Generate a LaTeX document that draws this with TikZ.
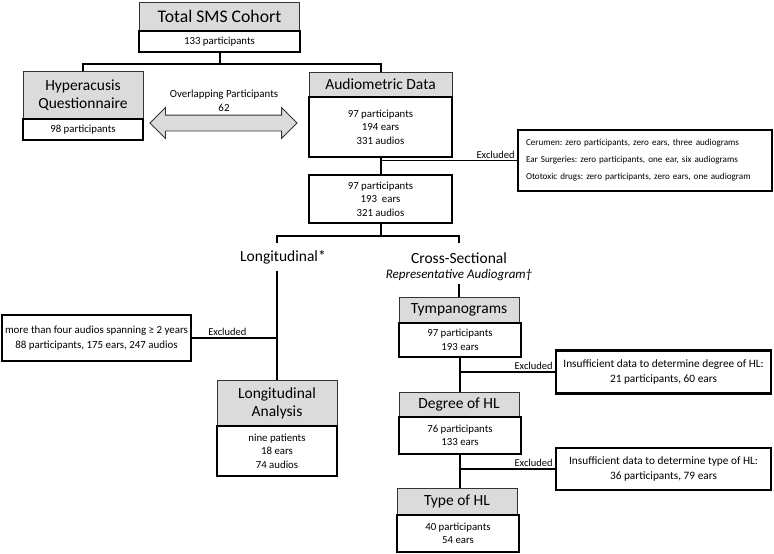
\documentclass[tikz,border=0pt]{standalone}
\usepackage{fontspec}
\setmainfont{Carlito}
\usetikzlibrary{shapes.arrows,calc}
\frenchspacing
\begin{document}
\begin{tikzpicture}[x=1pt,y=-1pt,
 hbox/.style={draw=black!80, line width=0.8pt, fill=black!14, inner sep=0pt, align=center, font=\fontsize{15.5}{18}\selectfont},
 wbox/.style={draw=black, line width=2.2pt, fill=white, inner sep=0pt, align=center, font=\fontsize{10.8}{13.5}\selectfont},
 conn/.style={line width=2pt},
 thinconn/.style={line width=1.5pt},
 exlab/.style={font=\fontsize{10.5}{12}\selectfont, inner sep=1.5pt},
 biglab/.style={font=\fontsize{15.5}{18}\selectfont, inner sep=0pt},
]
\useasboundingbox (0,0) rectangle (774,554);

% top
\node[hbox, minimum width=160pt, minimum height=29pt, font=\fontsize{17.7}{20}\selectfont] (tot_h) at (219.5,16.5) {Total SMS Cohort};
\node[wbox, minimum width=161pt, minimum height=21pt] (tot_b) at (219.5,41.5) {133 participants};

% hyperacusis
\node[hbox, minimum width=120pt, minimum height=48pt] (hyp_h) at (83,95) {Hyperacusis\\Questionnaire};
\node[wbox, minimum width=120pt, minimum height=21pt] (hyp_b) at (83,129.5) {98 participants};

% audiometric
\node[hbox, minimum width=143pt, minimum height=25pt] (aud_h) at (380.5,84.5) {Audiometric Data};
\node[wbox, minimum width=143pt, minimum height=60pt] (aud_b) at (380.5,127) {97 participants\\194 ears\\331 audios};

% overlap arrow
\node[double arrow, draw=black!80, line width=0.8pt, fill=black!14, minimum height=147pt, minimum width=30pt,
      double arrow head extend=7.5pt, inner xsep=0pt, inner ysep=7.5pt] (ov) at (223.5,123) {};
\node[font=\fontsize{10.9}{14}\selectfont, align=center, inner sep=0pt] (ovlab) at (224,101) {Overlapping Participants\\62};

% excluded 1
\node[wbox, minimum width=254pt, minimum height=61pt, text width=238pt, align=left, font=\fontsize{9.1}{17}\selectfont] (ex1) at (645,160.5)
 {Cerumen: zero participants, zero ears, three audiograms\\Ear Surgeries: zero participants, one ear, six audiograms\\Ototoxic drugs: zero participants, zero ears, one audiogram};

% middle
\node[wbox, minimum width=143pt, minimum height=48pt] (mid) at (380.5,199) {97 participants\\193~~ears\\321 audios};

% branch labels
\coordinate (lonTop) at (277,243);
\coordinate (crossTop) at (459,243);
\coordinate (lonBot) at (277,271);
\coordinate (crossBot) at (459,284);
\node[biglab] (lonlab) at (283,257) {Longitudinal*};
\node[biglab] (crosslab) at (459,258) {Cross-Sectional};
\node[font=\fontsize{13}{14}\selectfont\itshape, inner sep=0pt] (replab) at (459,275) {Representative Audiogram†};

% longitudinal side
\node[wbox, minimum width=189pt, minimum height=46pt, font=\fontsize{10.9}{15}\selectfont] (exL) at (96.5,338) {more than four audios spanning ≥ 2 years\\88 participants, 175 ears, 247 audios};
\node[hbox, minimum width=120pt, minimum height=46pt] (lan_h) at (277,403) {Longitudinal\\Analysis};
\node[wbox, minimum width=120pt, minimum height=50pt] (lan_b) at (277,451) {nine patients\\18 ears\\74 audios};

% cross-sectional side
\node[hbox, minimum width=120pt, minimum height=26pt] (ty_h) at (459,310) {Tympanograms};
\node[wbox, minimum width=122pt, minimum height=34pt] (ty_b) at (460,340) {97 participants\\193 ears};
\node[wbox, minimum width=215pt, minimum height=43pt, font=\fontsize{11.3}{15.5}\selectfont] (ex2) at (663.5,372) {Insufficient data to determine degree of HL:\\21 participants, 60 ears};
\node[hbox, minimum width=120pt, minimum height=25pt] (dg_h) at (459,404.5) {Degree of HL};
\node[wbox, minimum width=122pt, minimum height=37pt] (dg_b) at (460,435.5) {76 participants\\133 ears};
\node[wbox, minimum width=215pt, minimum height=42pt, font=\fontsize{11.3}{15.5}\selectfont] (ex3) at (663.5,469) {Insufficient data to determine type of HL:\\36 participants, 79 ears};
\node[hbox, minimum width=120pt, minimum height=27pt] (tp_h) at (457,501.5) {Type of HL};
\node[wbox, minimum width=122pt, minimum height=37pt] (tp_b) at (458,533.5) {40 participants\\54 ears};

% connectors
\draw[conn] (tot_b.south) -- ++(0,11) coordinate (tj) -| (hyp_h.north);
\draw[conn] (tj) -| (aud_h.north);
\draw[conn] (aud_b.south) -- (mid.north);
\draw[thinconn] (aud_b.south |- ex1.west) -- (ex1.west) node[exlab, pos=1, anchor=south east] {Excluded};
\draw[conn] (mid.south) -- ++(0,12) coordinate (mj) -| (lonTop);
\draw[conn] (mj) -| (crossTop);
\draw[conn] (lonBot) -- (lonBot |- lan_h.north);
\draw[thinconn] (exL.east) -- (exL.east -| lonBot) node[exlab, pos=0, anchor=south west, xshift=14pt] {Excluded};
\draw[conn] (crossBot) -- (ty_h.north);
\draw[conn] (ty_b.south) -- (ty_b.south |- dg_h.north);
\draw[thinconn] (ty_b.south |- ex2.west) -- (ex2.west) node[exlab, pos=1, anchor=south east] {Excluded};
\draw[conn] (dg_b.south) -- (dg_b.south |- tp_h.north);
\draw[thinconn] (dg_b.south |- ex3.west) -- (ex3.west) node[exlab, pos=1, anchor=south east] {Excluded};
\end{tikzpicture}
\end{document}
